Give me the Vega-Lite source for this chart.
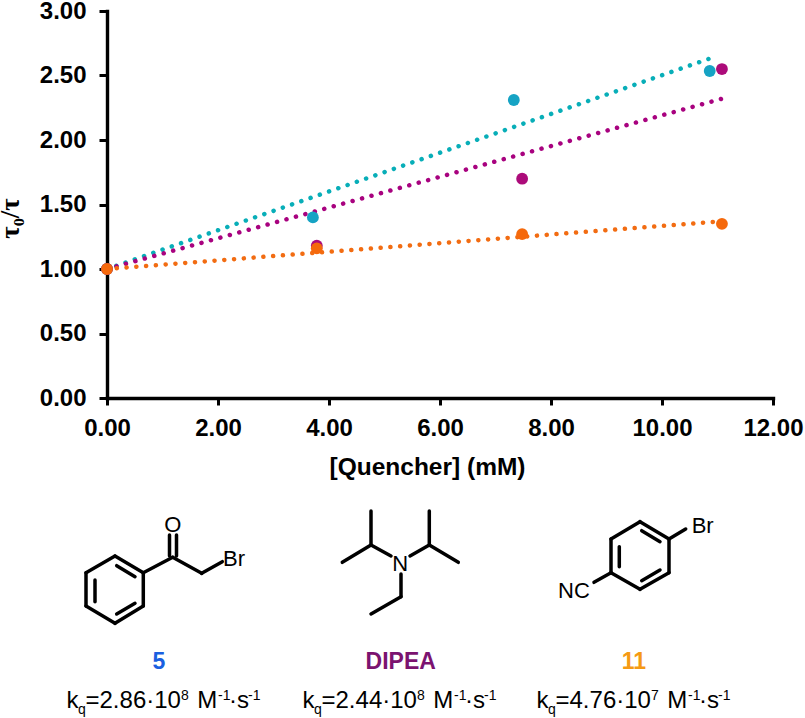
{
  "$schema": "https://vega.github.io/schema/vega-lite/v6.json",
  "description": "Stern-Volmer plot for three quenchers with their structures drawn below.",
  "autosize": "none",
  "padding": {"left": 107, "top": 11, "right": 32, "bottom": 320},
  "width": 666,
  "height": 387,
  "background": "white",
  "config": {"view": {"stroke": null}, "font": "Liberation Sans"},
  "datasets": {
    "points": [
      {"quencher": "5", "conc": 0, "ratio": 1},
      {"quencher": "5", "conc": 3.71, "ratio": 1.4},
      {"quencher": "5", "conc": 7.33, "ratio": 2.31},
      {"quencher": "5", "conc": 10.86, "ratio": 2.535},
      {"quencher": "DIPEA", "conc": 0, "ratio": 1},
      {"quencher": "DIPEA", "conc": 3.78, "ratio": 1.18},
      {"quencher": "DIPEA", "conc": 7.48, "ratio": 1.7},
      {"quencher": "DIPEA", "conc": 11.08, "ratio": 2.55},
      {"quencher": "11", "conc": 0, "ratio": 1},
      {"quencher": "11", "conc": 3.78, "ratio": 1.16},
      {"quencher": "11", "conc": 7.48, "ratio": 1.27},
      {"quencher": "11", "conc": 11.08, "ratio": 1.35}
    ],
    "fits": [
      {"quencher": "5", "conc": 0, "ratio": 1},
      {"quencher": "5", "conc": 10.85, "ratio": 2.63},
      {"quencher": "DIPEA", "conc": 0, "ratio": 1},
      {"quencher": "DIPEA", "conc": 11.08, "ratio": 2.32},
      {"quencher": "11", "conc": 0, "ratio": 1},
      {"quencher": "11", "conc": 11.08, "ratio": 1.37}
    ],
    "bonds": [
      {"x": 115, "y": 556, "x2": 143.3, "y2": 572.7},
      {"x": 143.3, "y": 572.7, "x2": 143.3, "y2": 606},
      {"x": 143.3, "y": 606, "x2": 115, "y2": 623.3},
      {"x": 115, "y": 623.3, "x2": 86, "y2": 606},
      {"x": 86, "y": 606, "x2": 86, "y2": 572.7},
      {"x": 86, "y": 572.7, "x2": 115, "y2": 556},
      {"x": 116.7, "y": 565.7, "x2": 135, "y2": 576.7},
      {"x": 95, "y": 580, "x2": 95, "y2": 601.7},
      {"x": 116.7, "y": 614, "x2": 135, "y2": 603.3},
      {"x": 143.3, "y": 572.7, "x2": 172.7, "y2": 557.3},
      {"x": 169.5, "y": 556, "x2": 169.5, "y2": 535},
      {"x": 176.5, "y": 556, "x2": 176.5, "y2": 535},
      {"x": 172.7, "y": 557.3, "x2": 201.7, "y2": 573.3},
      {"x": 201.7, "y": 573.3, "x2": 222.3, "y2": 561.7},
      {"x": 371, "y": 545, "x2": 371, "y2": 511},
      {"x": 371, "y": 545, "x2": 342.3, "y2": 562.3},
      {"x": 371, "y": 545, "x2": 391, "y2": 556},
      {"x": 429.3, "y": 545, "x2": 429.3, "y2": 511},
      {"x": 429.3, "y": 545, "x2": 458.3, "y2": 562.3},
      {"x": 429.3, "y": 545, "x2": 410, "y2": 556},
      {"x": 401, "y": 574, "x2": 401, "y2": 596.7},
      {"x": 401, "y": 596.7, "x2": 371, "y2": 614},
      {"x": 640, "y": 521.7, "x2": 669, "y2": 539},
      {"x": 669, "y": 539, "x2": 669, "y2": 572.7},
      {"x": 669, "y": 572.7, "x2": 640, "y2": 589.3},
      {"x": 640, "y": 589.3, "x2": 611, "y2": 572.7},
      {"x": 611, "y": 572.7, "x2": 611, "y2": 539},
      {"x": 611, "y": 539, "x2": 640, "y2": 521.7},
      {"x": 641.7, "y": 530.7, "x2": 660, "y2": 541.7},
      {"x": 619.3, "y": 546.7, "x2": 619.3, "y2": 566.7},
      {"x": 641.7, "y": 580.7, "x2": 660, "y2": 570},
      {"x": 669, "y": 539, "x2": 685.7, "y2": 529},
      {"x": 611, "y": 572.7, "x2": 594, "y2": 582.3}
    ],
    "atoms": [
      {"x": 164.2, "y": 531.5, "label": "O"},
      {"x": 223, "y": 566, "label": "Br"},
      {"x": 392.3, "y": 571, "label": "N"},
      {"x": 691.7, "y": 533, "label": "Br"},
      {"x": 558, "y": 598, "label": "NC"}
    ],
    "names": [
      {"x": 159, "y": 669, "label": "5"},
      {"x": 400.7, "y": 669, "label": "DIPEA"},
      {"x": 634, "y": 669, "label": "11"}
    ],
    "rates": [
      {"x": 66.5, "y": 708, "label": "k"},
      {"x": 85.5, "y": 708, "label": "=2.86·10"},
      {"x": 197.3, "y": 708, "label": "M"},
      {"x": 229, "y": 708, "label": "·s"},
      {"x": 302.5, "y": 708, "label": "k"},
      {"x": 321.5, "y": 708, "label": "=2.44·10"},
      {"x": 433.3, "y": 708, "label": "M"},
      {"x": 465, "y": 708, "label": "·s"},
      {"x": 536.5, "y": 708, "label": "k"},
      {"x": 555.5, "y": 708, "label": "=4.76·10"},
      {"x": 667.3, "y": 708, "label": "M"},
      {"x": 699, "y": 708, "label": "·s"}
    ],
    "scripts": [
      {"x": 78, "y": 714, "label": "q"},
      {"x": 181, "y": 700, "label": "8"},
      {"x": 218, "y": 700, "label": "-1"},
      {"x": 248, "y": 700, "label": "-1"},
      {"x": 314, "y": 714, "label": "q"},
      {"x": 417, "y": 700, "label": "8"},
      {"x": 454, "y": 700, "label": "-1"},
      {"x": 484, "y": 700, "label": "-1"},
      {"x": 548, "y": 714, "label": "q"},
      {"x": 651, "y": 700, "label": "7"},
      {"x": 688, "y": 700, "label": "-1"},
      {"x": 718, "y": 700, "label": "-1"}
    ]
  },
  "layer": [
    {
      "encoding": {
        "x": {
          "field": "conc",
          "type": "quantitative",
          "scale": {"domain": [0, 12], "nice": false},
          "axis": {
            "values": [0, 2, 4, 6, 8, 10, 12],
            "format": ".2f",
            "grid": false,
            "title": "[Quencher] (mM)",
            "titleFontSize": 24.5,
            "titleFontWeight": "bold",
            "titleColor": "black",
            "titleX": 320,
            "titleY": 76,
            "titleBaseline": "alphabetic",
            "labelFontSize": 24,
            "labelFontWeight": "bold",
            "labelColor": "black",
            "labelPadding": 11,
            "labelOverlap": false,
            "labelFlush": false,
            "domainColor": "black",
            "domainWidth": 3.4,
            "domainCap": "square",
            "tickColor": "black",
            "tickWidth": 3,
            "tickSize": 7
          }
        },
        "y": {
          "field": "ratio",
          "type": "quantitative",
          "scale": {"domain": [0, 3], "nice": false},
          "axis": {
            "values": [0, 0.5, 1, 1.5, 2, 2.5, 3],
            "format": ".2f",
            "grid": false,
            "title": "τ₀/τ",
            "titleFont": "Liberation Serif",
            "titleFontSize": 27,
            "titleFontWeight": "bold",
            "titleColor": "black",
            "titleX": -83,
            "titleY": 207,
            "labelFontSize": 24,
            "labelFontWeight": "bold",
            "labelColor": "black",
            "labelPadding": 13,
            "labelOverlap": false,
            "labelFlush": false,
            "domainColor": "black",
            "domainWidth": 3.4,
            "domainCap": "square",
            "tickColor": "black",
            "tickWidth": 3,
            "tickSize": 8
          }
        }
      },
      "layer": [
        {
          "data": {"name": "fits"},
          "mark": {"type": "line", "strokeWidth": 4.5, "strokeCap": "round", "strokeDash": [0.1, 9.7]},
          "encoding": {
            "color": {
              "field": "quencher",
              "type": "nominal",
              "scale": {"domain": ["5", "DIPEA", "11"], "range": ["#08AEB8", "#A8027F", "#F26C12"]},
              "legend": null
            }
          }
        },
        {
          "data": {"name": "points"},
          "mark": {"type": "circle", "size": 140, "opacity": 1},
          "encoding": {
            "color": {
              "field": "quencher",
              "type": "nominal",
              "scale": {"domain": ["5", "DIPEA", "11"], "range": ["#16A3C4", "#AC0B7A", "#F5690C"]},
              "legend": null
            }
          }
        }
      ],
      "resolve": {"scale": {"color": "independent"}}
    },
    {
      "encoding": {
        "x": {"field": "x", "type": "quantitative", "scale": {"domain": [107, 773], "nice": false, "zero": false}, "axis": null},
        "y": {"field": "y", "type": "quantitative", "scale": {"domain": [398, 11], "nice": false, "zero": false}, "axis": null}
      },
      "layer": [
        {
          "data": {"name": "bonds"},
          "mark": {"type": "rule", "color": "black", "strokeWidth": 3.5, "strokeCap": "round"},
          "encoding": {"x2": {"field": "x2"}, "y2": {"field": "y2"}}
        },
        {
          "data": {"name": "atoms"},
          "mark": {"type": "text", "align": "left", "baseline": "alphabetic", "fontSize": 22, "color": "black"},
          "encoding": {"text": {"field": "label"}}
        },
        {
          "data": {"name": "names"},
          "mark": {"type": "text", "align": "center", "baseline": "alphabetic", "fontSize": 23, "fontWeight": "bold"},
          "encoding": {
            "text": {"field": "label"},
            "color": {
              "field": "label",
              "type": "nominal",
              "scale": {"domain": ["5", "DIPEA", "11"], "range": ["#1A5FE0", "#7B1370", "#F59A14"]},
              "legend": null
            }
          }
        },
        {
          "data": {"name": "rates"},
          "mark": {"type": "text", "align": "left", "baseline": "alphabetic", "fontSize": 24, "color": "black"},
          "encoding": {"text": {"field": "label"}}
        },
        {
          "data": {"name": "scripts"},
          "mark": {"type": "text", "align": "left", "baseline": "alphabetic", "fontSize": 14, "color": "black"},
          "encoding": {"text": {"field": "label"}}
        }
      ]
    }
  ],
  "resolve": {"scale": {"x": "independent", "y": "independent", "color": "independent"}}
}
